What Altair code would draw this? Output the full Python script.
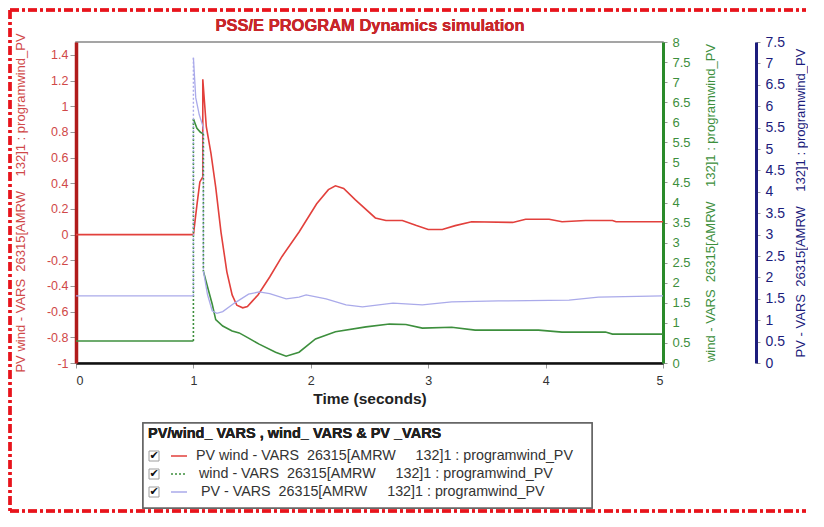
import altair as alt
import pandas as pd

# ---------------- data ----------------
time_pvwind = [0, 1.0, 1.03, 1.055, 1.08, 1.08, 1.11, 1.15, 1.19, 1.235, 1.285, 1.33, 1.37,
               1.42, 1.46, 1.5, 1.55, 1.65, 1.755, 1.9, 2.05, 2.15, 2.21, 2.28, 2.38, 2.55,
               2.64, 2.78, 2.9, 3.0, 3.12, 3.23, 3.37, 3.72, 3.83, 4.03, 4.14, 4.34, 4.57, 4.6, 5.0]
vars_pvwind = [0, 0, 0.23, 0.41, 0.45, 1.21, 0.84, 0.63, 0.37, 0.02, -0.29, -0.47, -0.55,
               -0.57, -0.56, -0.52, -0.47, -0.33, -0.17, 0.02, 0.24, 0.35, 0.38, 0.36, 0.27, 0.13,
               0.11, 0.11, 0.07, 0.04, 0.04, 0.07, 0.10, 0.095, 0.12, 0.12, 0.10, 0.11, 0.11, 0.10, 0.10]

time_wind = [0, 1.0, 1.0, 1.03, 1.06, 1.085, 1.085, 1.12, 1.16, 1.19, 1.25, 1.33, 1.39, 1.47,
             1.56, 1.70, 1.79, 1.9, 2.04, 2.21, 2.47, 2.67, 2.81, 2.95, 3.2, 3.4, 3.94, 4.14,
             4.51, 4.57, 5.0]
vars_wind = [0.55, 0.55, 6.08, 5.85, 5.75, 5.71, 2.29, 1.9, 1.47, 1.08, 0.92, 0.8, 0.75, 0.62,
             0.47, 0.27, 0.17, 0.27, 0.6, 0.78, 0.9, 0.97, 0.96, 0.87, 0.89, 0.82, 0.82, 0.77,
             0.77, 0.72, 0.72]

time_pv = [0, 1.0, 1.0, 1.02, 1.05, 1.085, 1.085, 1.12, 1.16, 1.2, 1.25, 1.35, 1.47, 1.56,
           1.65, 1.79, 1.9, 1.96, 2.13, 2.3, 2.44, 2.7, 2.95, 3.2, 3.6, 4.2, 4.45, 5.0]
vars_pv = [1.57, 1.57, 7.13, 6.2, 5.8, 5.5, 2.15, 1.6, 1.22, 1.16, 1.2, 1.4, 1.61, 1.66,
           1.62, 1.5, 1.54, 1.59, 1.5, 1.36, 1.31, 1.4, 1.36, 1.43, 1.45, 1.47, 1.54, 1.57]

NB2 = "\u00a0\u00a0"
NB4 = "\u00a0" * 4
NB5 = "\u00a0" * 5
series_labels = [
    f"PV wind - VARS{NB2}26315[AMRW{NB5}132]1 : programwind_PV",
    f"wind - VARS{NB2}26315[AMRW{NB5}132]1 : programwind_PV",
    f"PV - VARS{NB2}26315[AMRW{NB5}132]1 : programwind_PV",
]
axis_titles = [
    f"PV wind - VARS{NB2}26315[AMRW{NB4}132]1 : programwind_PV",
    f"wind - VARS{NB2}26315[AMRW{NB4}132]1 : programwind_PV",
    f"PV - VARS{NB2}26315[AMRW{NB4}132]1 : programwind_PV",
]
chart_title = "PSS/E PROGRAM Dynamics simulation"
legend_title = "PV/wind_ VARS ,  wind_ VARS & PV _VARS"
x_ticks = [0, 1, 2, 3, 4, 5]
left_ticks = [-1, -0.8, -0.6, -0.4, -0.2, 0, 0.2, 0.4, 0.6, 0.8, 1, 1.2, 1.4]
wind_ticks = [i * 0.5 for i in range(17)]
pv_ticks = [i * 0.5 for i in range(16)]

RED = "#e2403c"
GREEN = "#3d8f3d"
PV = "#aaaaea"
FONT = "Liberation Sans"
MINUS = "replace(datum.label, '\u2212', '-')"


def split(t, v):
    rows, jumps, seg = [], [], 0
    for i in range(len(t)):
        if i > 0 and t[i] == t[i - 1]:
            jumps.append({"t": t[i], "v0": v[i - 1], "v1": v[i]})
            seg += 1
        rows.append({"t": t[i], "v": v[i], "seg": seg})
    return pd.DataFrame(rows), pd.DataFrame(jumps)


df_red = pd.DataFrame({"t": time_pvwind, "v": vars_pvwind})
df_wind, jumps_wind = split(time_wind, vars_wind)
df_pv, jumps_pv = split(time_pv, vars_pv)

X = alt.X("t:Q", scale=alt.Scale(domain=[0, 5], nice=False),
          axis=alt.Axis(values=x_ticks, format="d", title="Time (seconds)", grid=False,
                        labelColor="#333", labelFontSize=12.5, labelFont=FONT,
                        tickColor="#999", tickSize=5, domainColor="#111", domainWidth=2.5,
                        titleFont=FONT, titleFontSize=15.5, titleFontWeight="bold",
                        titleColor="#222", titlePadding=5, labelPadding=6))

ax_red = alt.Axis(orient="left", values=left_ticks, format=".1~f", labelExpr=MINUS, grid=False,
                  title=axis_titles[0], titleColor="#d04848", titleFont=FONT,
                  titleFontSize=13, titleFontWeight="normal", titlePadding=19,
                  labelColor="#d04848", labelFontSize=12.5, labelFont=FONT,
                  tickColor="#999", tickSize=6, domainColor="#b01c1c", domainWidth=3.5)

ax_wind = alt.Axis(orient="right", values=wind_ticks, format=".1~f", grid=False,
                   title=axis_titles[1], titleColor=GREEN, titleFont=FONT, titleAngle=270,
                   titleBaseline="top",
                   titleFontSize=13, titleFontWeight="normal", titlePadding=14,
                   labelColor=GREEN, labelFontSize=13, labelFont=FONT, labelPadding=5,
                   tickColor="#999", tickSize=4, domainColor="#2a8a2a", domainWidth=3)

ax_pv = alt.Axis(orient="right", offset=93, values=pv_ticks, format=".1~f", grid=False,
                 title=axis_titles[2], titleColor="#1c1c7c", titleFont=FONT, titleAngle=270,
                 titleBaseline="top",
                 titleFontSize=13, titleFontWeight="normal", titlePadding=10,
                 labelColor="#1c1c7c", labelFontSize=14, labelFont=FONT, labelPadding=5,
                 tickColor="#999", tickSize=4, domainColor="#1c1c7c", domainWidth=3)

red = alt.Chart(df_red).mark_line(color=RED, strokeWidth=1.6).encode(
    x=X, y=alt.Y("v:Q", scale=alt.Scale(domain=[-1, 1.5], nice=False, zero=False), axis=ax_red))

ysc_wind = alt.Scale(domain=[0, 8], nice=False)
wind = alt.layer(
    alt.Chart(df_wind).mark_line(color=GREEN, strokeWidth=1.6).encode(
        x=X, y=alt.Y("v:Q", scale=ysc_wind, axis=ax_wind), detail="seg:N"),
    alt.Chart(jumps_wind).mark_rule(color=GREEN, strokeWidth=1.6, strokeDash=[2, 2]).encode(
        x="t:Q", y=alt.Y("v0:Q", scale=ysc_wind, axis=ax_wind), y2="v1:Q"),
)

ysc_pv = alt.Scale(domain=[0, 7.5], nice=False)
pv = alt.layer(
    alt.Chart(df_pv).mark_line(color=PV, strokeWidth=1.3).encode(
        x=X, y=alt.Y("v:Q", scale=ysc_pv, axis=ax_pv), detail="seg:N"),
    alt.Chart(jumps_pv).mark_rule(color=PV, strokeWidth=1.4, strokeDash=[2, 2]).encode(
        x="t:Q", y=alt.Y("v0:Q", scale=ysc_pv, axis=ax_pv), y2="v1:Q"),
)

# ---------------- manual legend ----------------
leg = pd.DataFrame({"label": series_labels, "row": [0, 1, 2]})
rowY = alt.Y("row:Q", scale=alt.Scale(domain=[0, 2], range=[414, 450]), axis=None)
leg_color = alt.Color("label:N", scale=alt.Scale(domain=series_labels, range=[RED, GREEN, PV]),
                      legend=None)
leg_dash = alt.StrokeDash("label:N", scale=alt.Scale(domain=series_labels,
                                                     range=[[1, 0], [2, 2], [1, 0]]), legend=None)

leg_box = alt.Chart(leg).mark_rect(fill="white", stroke="#666", strokeWidth=1.5).encode(
    x=alt.value(67), x2=alt.value(516), y=alt.value(381), y2=alt.value(466))
leg_title = alt.Chart(leg).mark_text(text=legend_title, align="left", baseline="middle",
                                     font=FONT, fontSize=14.5, fontWeight="bold",
                                     color="#222").encode(x=alt.value(72), y=alt.value(392))
leg_box_chk = alt.Chart(leg).mark_point(shape="square", size=100, filled=False, color="#777",
                                         strokeWidth=1).encode(x=alt.value(78), y=rowY)
leg_chk = alt.Chart(leg).mark_text(text="\u2714", font="DejaVu Sans", fontSize=11,
                                   color="#111", baseline="middle").encode(x=alt.value(78), y=rowY)
leg_line = alt.Chart(leg).mark_rule(strokeWidth=1.6).encode(
    x=alt.value(95), x2=alt.value(111), y=rowY, color=leg_color, strokeDash=leg_dash)
leg_texts = [
    alt.Chart(leg).transform_filter(f"datum.row == {i}").mark_text(
        align="left", baseline="middle", font=FONT, fontSize=14.3, color="#333"
    ).encode(x=alt.value(xp), y=rowY, text="label:N")
    for i, xp in enumerate([120, 123, 125])
]

# ---------------- title and red dash-dot frame ----------------
title_mark = alt.Chart(leg).mark_text(text=chart_title, align="center", baseline="middle",
                                      font=FONT, fontSize=16.5, fontWeight="bold",
                                      color="#c8262a").encode(x=alt.value(294), y=alt.value(-16))
frame_style = dict(color="#e8141c", strokeWidth=3, strokeDash=[9, 3, 3, 3])
frame_top = alt.Chart(leg).mark_rule(**frame_style).encode(
    x=alt.value(-66), x2=alt.value(730), y=alt.value(-32))
frame_left = alt.Chart(leg).mark_rule(**frame_style).encode(
    x=alt.value(-66), y=alt.value(-32), y2=alt.value(469))
frame_bottom = alt.Chart(leg).mark_rule(**frame_style).encode(
    x=alt.value(-66), x2=alt.value(730), y=alt.value(469))

chart = alt.layer(
    red, wind, pv,
    leg_box, leg_title, leg_box_chk, leg_chk, leg_line, *leg_texts,
    title_mark, frame_top, frame_left, frame_bottom,
).resolve_scale(y="independent").properties(
    width=587, height=321, padding=0,
).configure_view(stroke="#888", strokeWidth=1.5)

chart.save("out.html", embed_options={"renderer": "svg", "actions": False})
